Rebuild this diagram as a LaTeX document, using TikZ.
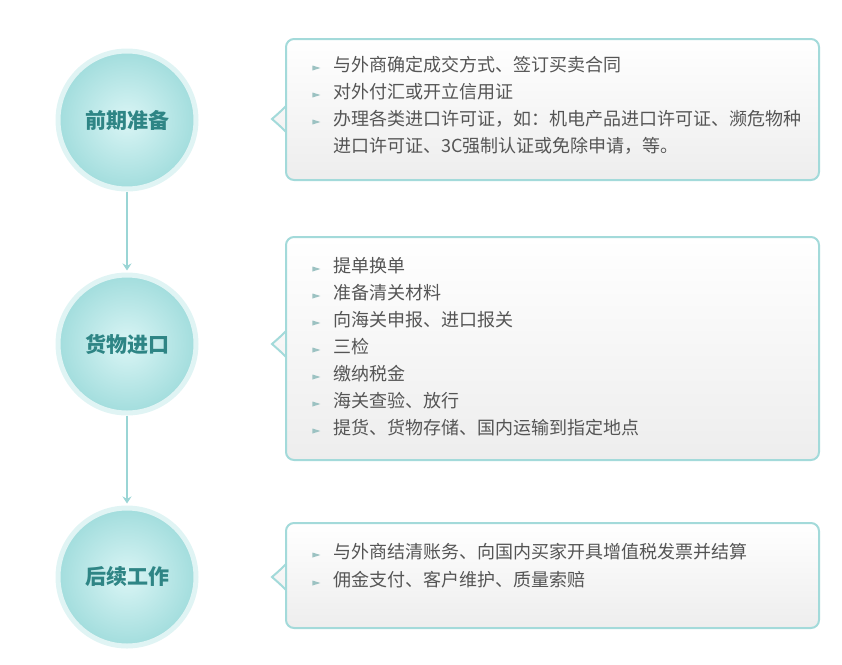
\documentclass[tikz,border=0pt]{standalone}
\usepackage{fontspec}
\setmainfont{Noto Sans CJK SC}
\usetikzlibrary{arrows.meta,shapes.geometric}
\definecolor{ringc}{HTML}{E0F4F4}
\definecolor{discin}{HTML}{DAF5F5}
\definecolor{discout}{HTML}{A2DDDD}
\definecolor{labelc}{HTML}{2E8585}
\definecolor{linec}{HTML}{9AD5D5}
\definecolor{boxc}{HTML}{A3DADA}
\definecolor{textc}{HTML}{555555}
\definecolor{bulletc}{HTML}{9CC2C2}
\tikzset{
  stage/.style={circle, minimum size=138pt, inner sep=0pt, draw=ringc, line width=5pt,
    inner color=discin, outer color=discout, text=labelc, font=\fontsize{21}{24}\selectfont\bfseries},
  flow/.style={linec, line width=1.8pt, -{Stealth[length=7pt,width=9pt]}},
  itembox/.style={draw=boxc, line width=2pt, top color=white, bottom color=black!7},
  bullet/.style={isosceles triangle, isosceles triangle stretches, fill=bulletc, draw=none,
    minimum width=5pt, minimum height=8pt, inner sep=0pt},
  itemcont/.style={anchor=west, inner sep=0pt, yshift=-3pt, text=textc, text height=0.88em, text depth=0.12em,
    font=\fontsize{18}{20}\selectfont},
  item/.style={itemcont, label={[bullet, label distance=12pt]left:{}}}
}
\begin{document}
\begin{tikzpicture}[x=1pt,y=1pt]
    \useasboundingbox (0,0) rectangle (842,-664);
    % Stages
    \node[stage] (prep) at (127,-120) {前期准备};
    \node[stage] (import) at (127,-344) {货物进口};
    \node[stage] (follow) at (127,-577) {后续工作};
    % Flow between stages
    \draw[flow] (prep.south) -- ([yshift=2pt]import.north);
    \draw[flow] (import.south) -- ([yshift=2pt]follow.north);
    % Box of the first stage
    \draw[itembox] (286,-132) [rounded corners=8pt] -- (286,-39) -- (819,-39) -- (819,-180) -- (286,-180)
        [sharp corners] -- (286,-132) .. controls (280,-126) .. (272,-119) .. controls (280,-112) .. (286,-106);
    \node[item] (p1) at (333,-65) {与外商确定成交方式、签订买卖合同};
    \node[item] (p2) at (333,-92) {对外付汇或开立信用证};
    \node[item] (p3) at (333,-119) {办理各类进口许可证，如：机电产品进口许可证、濒危物种};
    \node[itemcont] (p3b) at (333,-146) {进口许可证、3C强制认证或免除申请，等。};
    % Box of the second stage
    \draw[itembox] (286,-357) [rounded corners=8pt] -- (286,-237) -- (819,-237) -- (819,-460) -- (286,-460)
        [sharp corners] -- (286,-357) .. controls (280,-351) .. (272,-344) .. controls (280,-337) .. (286,-331);
    \node[item] (i1) at (333,-266) {提单换单};
    \node[item] (i2) at (333,-293) {准备清关材料};
    \node[item] (i3) at (333,-320) {向海关申报、进口报关};
    \node[item] (i4) at (333,-347) {三检};
    \node[item] (i5) at (333,-374) {缴纳税金};
    \node[item] (i6) at (333,-401) {海关查验、放行};
    \node[item] (i7) at (333,-428) {提货、货物存储、国内运输到指定地点};
    % Box of the third stage
    \draw[itembox] (286,-590) [rounded corners=8pt] -- (286,-523) -- (819,-523) -- (819,-628) -- (286,-628)
        [sharp corners] -- (286,-590) .. controls (280,-584) .. (272,-577) .. controls (280,-570) .. (286,-564);
    \node[item] (f1) at (333,-552) {与外商结清账务、向国内买家开具增值税发票并结算};
    \node[item] (f2) at (333,-580) {佣金支付、客户维护、质量索赔};
\end{tikzpicture}
\end{document}
